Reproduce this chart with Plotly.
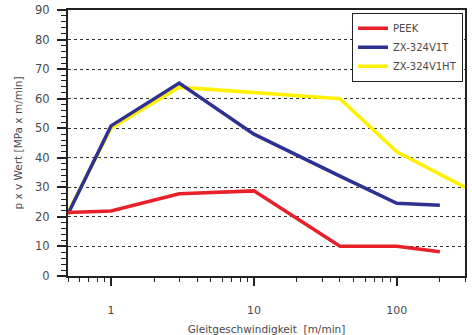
import plotly.graph_objects as go

speed = [0.5, 1, 3, 10, 40, 100, 200]
peek = [21.5, 22, 27.8, 28.8, 10.1, 10.1, 8.2]
v1t = [21, 50.8, 65.3, 48, 33.8, 24.6, 23.9]
speed_ht = [0.5, 1, 3, 10, 40, 100, 300]
v1ht = [21.5, 50, 63.9, 62.2, 60, 42, 30]

FONT = "DejaVu Sans"
GRAY = "#4a4a4a"

fig = go.Figure()
fig.add_trace(go.Scatter(x=speed_ht, y=v1ht, mode="lines", name="ZX-324V1HT",
                         line=dict(color="#FFF200", width=3.5), legendrank=3))
fig.add_trace(go.Scatter(x=speed, y=v1t, mode="lines", name="ZX-324V1T",
                         line=dict(color="#2E3192", width=3.5), legendrank=2))
fig.add_trace(go.Scatter(x=speed, y=peek, mode="lines", name="PEEK",
                         line=dict(color="#E8202A", width=3.5), legendrank=1))

fig.update_layout(
    width=472, height=335,
    margin=dict(l=68, r=7, t=10, b=59, autoexpand=False),
    paper_bgcolor="white", plot_bgcolor="white",
    font=dict(family=FONT, size=11, color=GRAY),
    showlegend=True,
    legend=dict(x=0.995, y=0.99, xanchor="right", yanchor="top",
                bgcolor="white", bordercolor="#222", borderwidth=1,
                font=dict(size=10, color=GRAY), itemwidth=30,
                tracegroupgap=0),
)
fig.update_xaxes(
    type="log", range=[-0.30103, 2.4771],
    tickvals=[1, 10, 100], ticktext=["1", "10", "100"],
    ticks="outside", ticklen=8, tickwidth=1.5, tickcolor="#222",
    minor=dict(dtick="D1", ticks="outside", ticklen=4, tickwidth=1.2, tickcolor="#222", showgrid=False),
    showgrid=False, showline=True, linecolor="#222", linewidth=2, mirror=True,
    ticklabelstandoff=15, tickfont=dict(size=11, color=GRAY),
    title=dict(text="Gleitgeschwindigkeit  [m/min]", font=dict(size=10.5, color=GRAY), standoff=12),
    zeroline=False, automargin=False,
)
fig.update_yaxes(
    range=[0, 90], dtick=10, tick0=0,
    ticks="outside", ticklen=9, tickwidth=1.5, tickcolor="#222",
    minor=dict(dtick=2, ticks="outside", ticklen=5, tickwidth=1.2, tickcolor="#222", showgrid=False),
    showgrid=True, gridcolor="#333", griddash="dot", gridwidth=1,
    showline=True, linecolor="#222", linewidth=2, mirror=True,
    ticklabelstandoff=5, tickfont=dict(size=11.5, color=GRAY),
    title=dict(text="p x v Wert [MPa x m/min]", font=dict(size=10.5, color=GRAY), standoff=10),
    zeroline=False, automargin=False,
)

fig.write_html("out.html", config={"displayModeBar": False})
with open("out.html", encoding="utf-8") as f:
    html = f.read()
html = html.replace("<body>", '<body style="margin:0;padding:0;overflow:hidden">', 1)
with open("out.html", "w", encoding="utf-8") as f:
    f.write(html)
